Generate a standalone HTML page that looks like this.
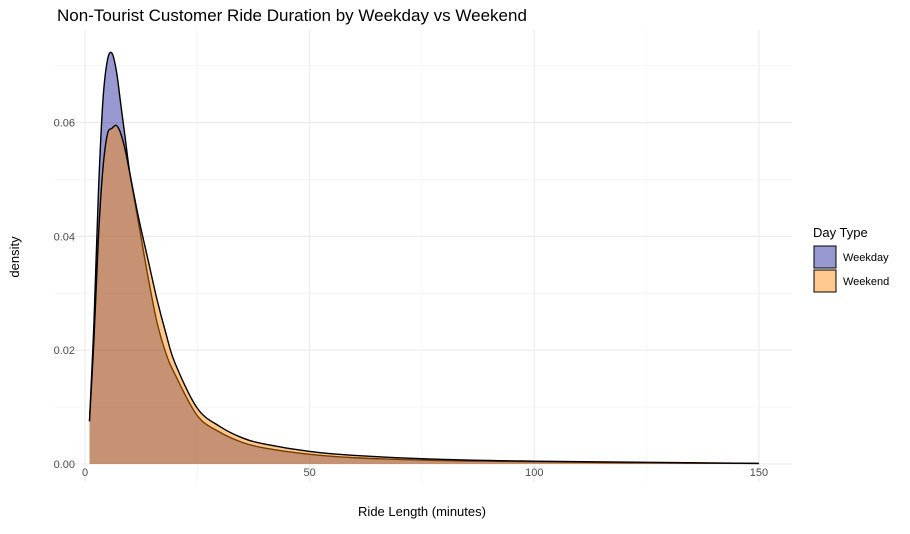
<!DOCTYPE html>
<html><head><meta charset="utf-8"><style>
body{margin:0;background:#fff;font-family:"Liberation Sans",sans-serif;}
svg text{font-family:"Liberation Sans",sans-serif;}
</style></head><body>
<svg id="chart" width="910" height="529">
<text x="57" y="21" font-size="17" fill="#000">Non-Tourist Customer Ride Duration by Weekday vs Weekend</text>
<g id="grid"></g>
<g id="marks"></g>
<g id="axes"></g>
<text x="422" y="516" font-size="13" text-anchor="middle" fill="#000">Ride Length (minutes)</text>
<text transform="translate(19,257) rotate(-90)" font-size="13" text-anchor="middle" fill="#000">density</text>
<g>
<text x="813" y="237" font-size="13" fill="#000">Day Type</text>
<g>
<rect x="814" y="246" width="22" height="22" fill="#9999d1" stroke="#000" stroke-width="1"/>
<text x="843" y="261" font-size="11" fill="#000">Weekday</text></g>
<g>
<rect x="814" y="270" width="22" height="22" fill="#ffc98d" stroke="#000" stroke-width="1"/>
<text x="843" y="285" font-size="11" fill="#000">Weekend</text></g>
</g>
</svg>
<script>
const xs = [1,2,3,4,5,6,7,8,9,10,12,14,16,18,20,25,30,35,40,50,60,80,100,125,150];
const weekday = [0.0075,0.025,0.048,0.064,0.071,0.0722,0.069,0.063,0.057,0.051,0.042,0.033,0.025,0.0195,0.0158,0.0085,0.0056,0.0038,0.0028,0.0017,0.0011,0.0006,0.0004,0.0002,0.0001];
const weekend = [0.0075,0.022,0.040,0.052,0.058,0.059,0.0595,0.058,0.055,0.051,0.043,0.036,0.029,0.023,0.0178,0.0098,0.0066,0.0046,0.0035,0.0022,0.0015,0.0008,0.0005,0.0003,0.0001];
const xTicks = [0,50,100,150];
const yTicks = [0,0.02,0.04,0.06];
const yTickLabels = ["0.00","0.02","0.04","0.06"];
const X = v => 85 + v*4.493;
const Y = v => 464 - v*5690;
const ns = "http://www.w3.org/2000/svg";
function mk(tag, attrs, parent){const e=document.createElementNS(ns,tag);for(const k in attrs)e.setAttribute(k,attrs[k]);parent.appendChild(e);return e;}
const grid=document.getElementById('grid'), marks=document.getElementById('marks'), axes=document.getElementById('axes');
const L=55,R=792,T=30,B=482;
[0.01,0.03,0.05,0.07].forEach(v=>{const l=mk('line',{x1:L,x2:R,y1:Y(v),y2:Y(v),stroke:'#f2f2f2','stroke-width':0.6},grid);

});
[25,75,125].forEach(v=>{const l=mk('line',{x1:X(v),x2:X(v),y1:T,y2:B,stroke:'#f2f2f2','stroke-width':0.6},grid);

});
yTicks.forEach((v,i)=>{const l=mk('line',{x1:L,x2:R,y1:Y(v),y2:Y(v),stroke:'#ebebeb','stroke-width':1.1},grid);


const t=mk('text',{x:75,y:Y(v)+4,'font-size':11,'text-anchor':'end',fill:'#4d4d4d'},axes);t.textContent=yTickLabels[i];

});
xTicks.forEach(v=>{const l=mk('line',{x1:X(v),x2:X(v),y1:T,y2:B,stroke:'#ebebeb','stroke-width':1.1},grid);


const t=mk('text',{x:X(v),y:476,'font-size':11,'text-anchor':'middle',fill:'#4d4d4d'},axes);t.textContent=v;

});
function curve(vals){const p=xs.map((x,i)=>[X(x),Y(vals[i])]);let d='M'+p[0][0]+','+p[0][1];
for(let i=0;i<p.length-1;i++){const p0=p[Math.max(0,i-1)],p1=p[i],p2=p[i+1],p3=p[Math.min(p.length-1,i+2)];
const c1=[p1[0]+(p2[0]-p0[0])/6,p1[1]+(p2[1]-p0[1])/6],c2=[p2[0]-(p3[0]-p1[0])/6,p2[1]-(p3[1]-p1[1])/6];
d+=` C${c1[0]},${c1[1]} ${c2[0]},${c2[1]} ${p2[0]},${p2[1]}`;}return d;}
function area(vals,fill,op,name){const c=curve(vals);
const a=mk('path',{d:c+` L${X(xs[xs.length-1])},${Y(0)} L${X(xs[0])},${Y(0)} Z`,fill:fill,'fill-opacity':op},marks);


const l=mk('path',{d:c,fill:'none',stroke:'#000','stroke-width':1.4},marks);

}
area(weekday,'#00008b',0.4,'weekday');
area(weekend,'#ff8702',0.45,'weekend');
</script>
</body></html>
